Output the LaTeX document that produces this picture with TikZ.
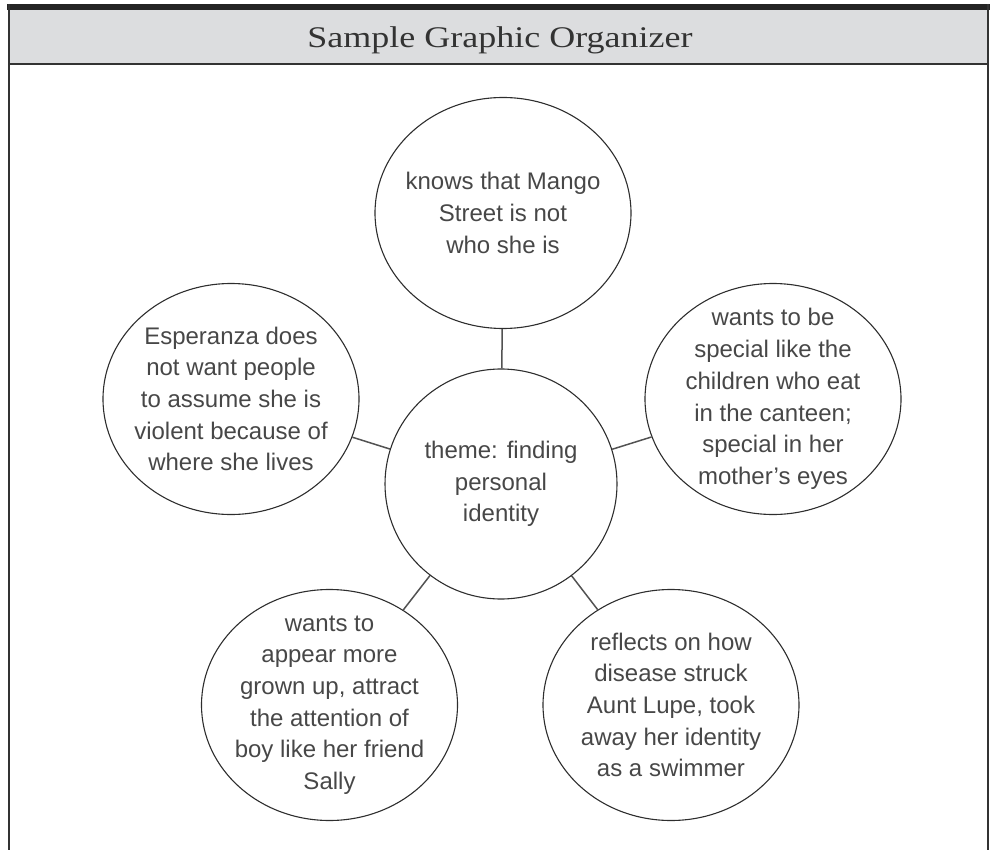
\documentclass[tikz,border=0pt]{standalone}
\usepackage{fontspec}
\setmainfont{Liberation Sans}
\newfontfamily\titlefont[FakeStretch=1.2]{Liberation Serif}
\usetikzlibrary{shapes.geometric}
\definecolor{ink}{HTML}{333333}
\definecolor{band}{HTML}{DCDDDF}
\tikzset{
  bubble/.style={draw=ink!90!black, line width=1.1pt, ellipse, inner sep=-60pt,
    minimum width=256pt, minimum height=231pt, align=center, text=ink!90,
    font={\fontsize{24}{31.7}\selectfont}},
  hub/.style={bubble, minimum width=232pt, minimum height=230pt},
  conn/.style={draw=ink!85, line width=1.5pt},
  frameline/.style={draw=ink, line width=1.4pt}
}
\begin{document}
\begin{tikzpicture}[x=1pt,y=-1pt]
\useasboundingbox (0,0) rectangle (995,850);
% header
\fill[band] (9,10) rectangle (988,64);
\fill[ink!70!black] (7,4) rectangle (990,10);
\draw[frameline] (9,4) -- (9,850);
\draw[frameline] (988,4) -- (988,850);
\draw[frameline] (9,64) -- (988,64);
\node[anchor=base, text=ink, font={\titlefont\fontsize{30}{30}\selectfont}] (title) at (500,47.5) {Sample Graphic Organizer};
% bubbles
\node[hub] (c) at (501,484) {theme: finding\\personal\\identity};
\node[bubble] (t) at (503,213) {knows that Mango\\Street is not\\who she is};
\node[bubble] (l) at (231,399) {Esperanza does\\not want people\\to assume she is\\violent because of\\where she lives};
\node[bubble] (r) at (773,399) {wants to be\\special like the\\children who eat\\in the canteen;\\special in her\\mother’s eyes};
\node[bubble] (bl) at (329.5,705) {wants to\\appear more\\grown up, attract\\the attention of\\boy like her friend\\Sally};
\node[bubble] (br) at (671,705) {reflects on how\\disease struck\\Aunt Lupe, took\\away her identity\\as a swimmer};
% connectors
\draw[conn] (c) -- (t);
\draw[conn] (c) -- (l);
\draw[conn] (c) -- (r);
\draw[conn] (c) -- (bl);
\draw[conn] (c) -- (br);
\end{tikzpicture}
\end{document}
